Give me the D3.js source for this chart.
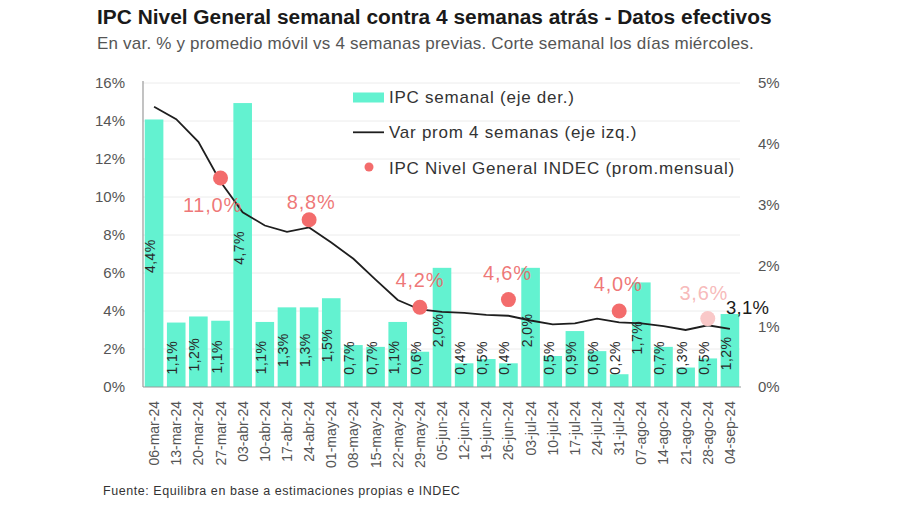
<!DOCTYPE html>
<html>
<head>
<meta charset="utf-8">
<script src="https://cdn.jsdelivr.net/npm/d3@7"></script>
<style>
  html, body { margin: 0; padding: 0; background: #fff; }
  svg { display: block; font-family: "Liberation Sans", Arial, Helvetica, sans-serif; }
</style>
</head>
<body>
<svg id="chart" width="900" height="505"></svg>
<script>
// ---------- data ----------
const dates = ["06-mar-24","13-mar-24","20-mar-24","27-mar-24","03-abr-24","10-abr-24","17-abr-24","24-abr-24",
  "01-may-24","08-may-24","15-may-24","22-may-24","29-may-24","05-jun-24","12-jun-24","19-jun-24","26-jun-24",
  "03-jul-24","10-jul-24","17-jul-24","24-jul-24","31-jul-24","07-ago-24","14-ago-24","21-ago-24","28-ago-24","04-sep-24"];
// IPC semanal (eje der.), %
const weekly = [4.40,1.06,1.16,1.09,4.67,1.07,1.31,1.31,1.46,0.69,0.66,1.07,0.58,1.96,0.39,0.46,0.39,1.96,0.51,0.92,0.59,0.21,1.72,0.66,0.32,0.47,1.20];
// Var prom 4 semanas (eje izq.), %
const avg4 = [14.75,14.1,12.9,10.8,9.2,8.5,8.17,8.4,7.6,6.75,5.65,4.58,4.08,3.95,3.9,3.8,3.75,3.5,3.3,3.35,3.6,3.4,3.35,3.2,3.0,3.25,3.06];
// IPC Nivel General INDEC (prom. mensual), %
const monthDates = ["27-mar-24","24-abr-24","29-may-24","26-jun-24","31-jul-24","28-ago-24"];
const monthly = [11.0, 8.8, 4.2, 4.6, 4.0, 3.6];
const leftTicks = [0,2,4,6,8,10,12,14,16];
const rightTicks = [0,1,2,3,4,5];
const legendLabels = ["IPC semanal (eje der.)","Var prom 4 semanas (eje izq.)","IPC Nivel General INDEC (prom.mensual)"];
const title = "IPC Nivel General semanal contra 4 semanas atrás - Datos efectivos";
const subtitle = "En var. % y promedio móvil vs 4 semanas previas. Corte semanal los días miércoles.";
const source = "Fuente: Equilibra en base a estimaciones propias e INDEC";

// ---------- layout ----------
const svg = d3.select("#chart");
const L = 143, R = 741, T = 83, B = 387;
const barColor = "#63f2d0";
const dotColor = "#f36c6c";
const fmt = v => d3.format(".1f")(v).replace(".", ",") + "%";

const x = d3.scaleBand().domain(dates).range([L, R]).paddingInner(0.16).paddingOuter(0.08);
const yL = d3.scaleLinear().domain([0, 16]).range([B, T]);
const yR = d3.scaleLinear().domain([0, 5]).range([B, T]);

// title
svg.append("text").attr("x", 97).attr("y", 24).attr("font-size", 20.9).attr("font-weight", "bold")
  .attr("fill", "#1a1a1a").text(title);
svg.append("text").attr("x", 97).attr("y", 49).attr("font-size", 17).attr("letter-spacing", 0.2)
  .attr("fill", "#555").text(subtitle);

// gridlines
svg.append("g").selectAll("line").data(leftTicks.slice(1)).join("line")
  .attr("x1", L).attr("x2", R - 1).attr("y1", d => yL(d)).attr("y2", d => yL(d))
  .attr("stroke", "#ececec").attr("stroke-width", 1);

// bars
svg.append("g").selectAll("rect").data(weekly).join("rect")
  .attr("x", (d, i) => x(dates[i])).attr("width", x.bandwidth())
  .attr("y", d => yR(d)).attr("height", d => B - yR(d)).attr("fill", barColor);

// bar labels
svg.append("g").selectAll("text").data(weekly).join("text")
  .attr("transform", (d, i) => {
    const cx = x(dates[i]) + x.bandwidth() / 2 + 1;
    const cy = Math.min((yR(d) + B) / 2 + 3, 358);
    return `translate(${cx},${cy}) rotate(-90)`;
  })
  .attr("text-anchor", "middle").attr("font-size", 14).attr("letter-spacing", 0.4)
  .attr("fill", "#2a2a2a").text(d => fmt(d));

// axes lines
svg.append("line").attr("x1", L).attr("x2", L).attr("y1", T - 2).attr("y2", B).attr("stroke", "#9a9a9a").attr("stroke-width", 1.2);
svg.append("line").attr("x1", L).attr("x2", R).attr("y1", B).attr("y2", B).attr("stroke", "#9a9a9a").attr("stroke-width", 1.2);

// left axis
const axL = d3.axisLeft(yL).tickValues(leftTicks).tickFormat(d => d + "%").tickSize(0).tickPadding(18);
const gL = svg.append("g").attr("transform", `translate(${L},0)`).call(axL);
gL.select(".domain").remove();
gL.selectAll("text").attr("font-size", 15).attr("fill", "#555").attr("font-family", "Liberation Sans, Arial, sans-serif");

// right axis
const axR = d3.axisRight(yR).tickValues(rightTicks).tickFormat(d => d + "%").tickSize(0).tickPadding(17);
const gR = svg.append("g").attr("transform", `translate(${R},0)`).call(axR);
gR.select(".domain").remove();
gR.selectAll("text").attr("font-size", 15).attr("fill", "#555").attr("font-family", "Liberation Sans, Arial, sans-serif");

// x axis
const axX = d3.axisBottom(x).tickSize(0).tickPadding(0);
const gX = svg.append("g").attr("transform", `translate(0,${B})`).call(axX);
gX.select(".domain").remove();
gX.selectAll("text").attr("font-size", 14).attr("fill", "#555").attr("font-family", "Liberation Sans, Arial, sans-serif")
  .attr("text-anchor", "end").attr("dy", null).attr("y", 0)
  .attr("transform", "translate(0,14) rotate(-90)").attr("dominant-baseline", "central");

// line
const line = d3.line().x((d, i) => x(dates[i]) + x.bandwidth() / 2).y(d => yL(d)).curve(d3.curveLinear);
svg.append("path").datum(avg4).attr("d", line).attr("fill", "none").attr("stroke", "#1e1e1e").attr("stroke-width", 1.8);

// end label
const lastI = avg4.length - 1;
svg.append("text").attr("x", x(dates[lastI]) + x.bandwidth() / 2 - 4).attr("y", yL(avg4[lastI]) - 15)
  .attr("font-size", 18.5).attr("fill", "#1a1a1a").attr("letter-spacing", 0.3).text(fmt(avg4[lastI]));

// dots
const nM = monthly.length;
const dotFill = (i) => i === nM - 1 ? "#f9c8c8" : dotColor;
svg.append("g").selectAll("circle").data(monthly).join("circle")
  .attr("cx", (d, i) => x(monthDates[i]) + x.bandwidth() / 2).attr("cy", d => yL(d))
  .attr("r", 7.5).attr("fill", (d, i) => dotFill(i));

// dot labels
const lblOff = [[-8, 34], [2, -11], [0, -20], [-1, -20], [-1, -20], [-4, -19]];
svg.append("g").selectAll("text").data(monthly).join("text")
  .attr("x", (d, i) => x(monthDates[i]) + x.bandwidth() / 2 + lblOff[i][0])
  .attr("y", (d, i) => yL(d) + lblOff[i][1])
  .attr("text-anchor", "middle").attr("font-size", 20).attr("letter-spacing", 0.8)
  .attr("fill", (d, i) => i === nM - 1 ? "#f6b2b2" : "#ec5f5f")
  .attr("fill-opacity", (d, i) => i === nM - 1 ? 0.9 : 0.85)
  .text(d => fmt(d));

// legend
const lg = svg.append("g");
lg.append("rect").attr("x", 353).attr("y", 92.5).attr("width", 31).attr("height", 10).attr("fill", barColor);
lg.append("line").attr("x1", 353).attr("x2", 384).attr("y1", 132.3).attr("y2", 132.3).attr("stroke", "#1e1e1e").attr("stroke-width", 1.8);
lg.append("circle").attr("cx", 369).attr("cy", 167).attr("r", 4.5).attr("fill", dotColor);
lg.selectAll("text").data(legendLabels).join("text")
  .attr("x", 389).attr("y", (d, i) => 103 + i * 35.3)
  .attr("font-size", 17).attr("letter-spacing", 0.75).attr("fill", "#333").text(d => d);

// source
svg.append("text").attr("x", 103).attr("y", 495).attr("font-size", 12.5).attr("letter-spacing", 0.55)
  .attr("fill", "#333").text(source);
</script>
</body>
</html>
